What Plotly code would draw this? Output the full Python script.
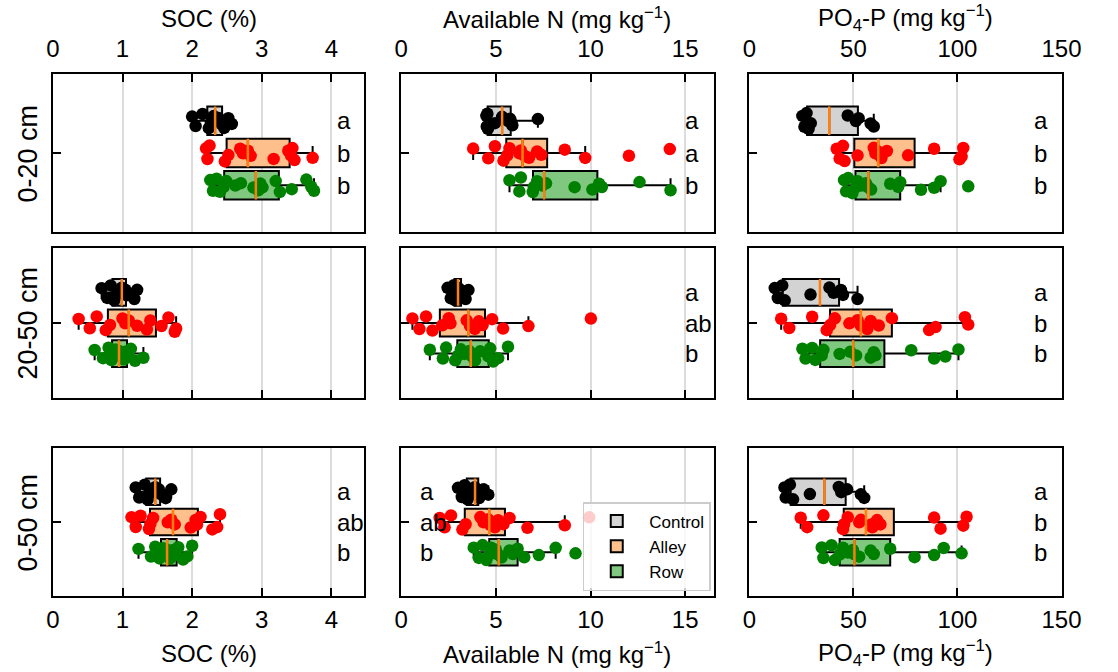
import numpy as np
import plotly.graph_objects as go

TREATMENTS = ["Control", "Alley", "Row"]
DEPTHS = ["0-20 cm", "20-50 cm", "0-50 cm"]
VARIABLES = ["SOC (%)", "Available N (mg kg<sup>−1</sup>)", "PO<sub>4</sub>-P (mg kg<sup>−1</sup>)"]
TICKS = [[0, 1, 2, 3, 4], [0, 5, 10, 15], [0, 50, 100, 150]]
XRANGES = [[0, 4.47], [0, 16.5], [0, 150.2]]

# SOC (%)
soc_0_20_control = [2.00, 2.05, 2.15, 2.24, 2.27, 2.31, 2.35, 2.38, 2.42, 2.46, 2.52, 2.57]
soc_0_20_alley = [2.20, 2.22, 2.25, 2.47, 2.52, 2.69, 2.73, 2.80, 2.84, 3.17, 3.38, 3.42, 3.44, 3.47, 3.73]
soc_0_20_row = [2.26, 2.30, 2.35, 2.40, 2.45, 2.49, 2.62, 2.70, 2.88, 2.95, 2.98, 3.01, 3.20, 3.26, 3.43, 3.64, 3.71, 3.75]
soc_20_50_control = [0.70, 0.78, 0.83, 0.88, 0.92, 0.99, 1.01, 1.04, 1.06, 1.17, 1.21]
soc_20_50_alley = [0.37, 0.53, 0.63, 0.76, 0.82, 1.00, 1.04, 1.09, 1.21, 1.35, 1.40, 1.56, 1.66, 1.75, 1.77]
soc_20_50_row = [0.60, 0.72, 0.80, 0.84, 0.86, 0.90, 0.93, 0.95, 0.98, 1.02, 1.05, 1.08, 1.12, 1.18, 1.30]
soc_0_50_control = [1.19, 1.24, 1.32, 1.36, 1.38, 1.47, 1.49, 1.52, 1.56, 1.62, 1.70]
soc_0_50_alley = [1.13, 1.19, 1.26, 1.38, 1.40, 1.44, 1.65, 1.70, 1.75, 1.98, 2.05, 2.07, 2.12, 2.29, 2.36, 2.40]
soc_0_50_row = [1.23, 1.41, 1.47, 1.53, 1.56, 1.58, 1.61, 1.63, 1.65, 1.68, 1.73, 1.77, 1.80, 1.87, 1.93, 2.00]

# Available N (mg kg-1)
n_0_20_control = [4.50, 4.52, 4.55, 4.58, 4.95, 5.33, 5.65, 5.75, 5.82, 5.87, 7.22]
n_0_20_alley = [3.80, 4.60, 4.95, 5.40, 5.60, 5.72, 6.24, 6.32, 6.50, 6.75, 7.18, 7.40, 8.64, 9.72, 12.03, 14.19]
n_0_20_row = [5.72, 6.24, 6.32, 6.95, 7.00, 7.18, 7.45, 7.65, 9.16, 10.10, 10.45, 10.60, 12.59, 14.23]
n_20_50_control = [2.45, 2.62, 2.78, 2.85, 2.95, 3.00, 3.05, 3.12, 3.20, 3.40, 3.55]
n_20_50_alley = [0.59, 0.96, 1.31, 1.65, 2.17, 2.51, 2.60, 3.46, 3.63, 3.89, 4.10, 4.30, 4.80, 5.38, 6.72, 10.02]
n_20_50_row = [1.51, 2.20, 2.37, 2.85, 3.00, 3.15, 3.35, 3.60, 3.75, 3.90, 4.17, 4.60, 4.70, 4.86, 5.12, 5.64]
n_0_50_control = [3.00, 3.20, 3.35, 3.50, 3.60, 3.88, 3.92, 4.00, 4.05, 4.12, 4.35, 4.60]
n_0_50_alley = [2.03, 2.29, 2.63, 3.23, 3.40, 4.18, 4.35, 4.60, 4.70, 4.95, 5.12, 5.40, 5.72, 6.67, 8.64, 9.93]
n_0_50_row = [3.83, 4.10, 4.30, 4.50, 4.65, 4.75, 4.90, 5.00, 5.15, 5.30, 5.72, 5.90, 6.15, 6.50, 7.27, 8.16, 9.21]

# PO4-P (mg kg-1)
p_0_20_control = [25.5, 26.5, 27.5, 28.5, 29.5, 47.3, 51.2, 52.5, 58.3, 59.8]
p_0_20_alley = [42.0, 43.4, 45.0, 45.8, 52.0, 59.8, 60.6, 61.4, 62.5, 63.5, 66.1, 76.3, 88.8, 101.0, 102.0, 102.8]
p_0_20_row = [45.5, 46.5, 47.5, 49.5, 51.0, 52.0, 54.0, 56.0, 57.2, 58.5, 67.7, 71.5, 72.5, 82.5, 88.8, 91.9, 105.2]
p_20_50_control = [12.2, 13.7, 15.8, 17.0, 29.4, 38.5, 40.5, 44.0, 45.0, 52.0]
p_20_50_alley = [15.3, 19.2, 30.2, 37.2, 38.8, 41.1, 48.1, 52.0, 53.6, 56.7, 58.3, 62.2, 68.5, 86.4, 89.5, 103.6, 105.2]
p_20_50_row = [25.5, 27.0, 30.2, 31.7, 34.8, 35.6, 43.4, 48.5, 51.3, 58.3, 59.8, 60.6, 77.8, 88.8, 94.2, 100.5]
p_0_50_control = [16.9, 17.5, 19.5, 21.0, 29.1, 43.0, 44.2, 47.0, 53.6, 55.2]
p_0_50_alley = [24.7, 27.8, 35.6, 45.0, 45.5, 47.3, 52.8, 53.6, 58.5, 59.1, 61.4, 63.0, 88.8, 91.9, 102.8, 104.4]
p_0_50_row = [34.8, 35.6, 39.5, 41.1, 43.4, 45.0, 47.3, 49.7, 50.5, 52.8, 58.3, 59.8, 67.7, 79.4, 88.8, 93.4, 102.0]

# significance letters (Control, Alley, Row) per depth row / variable column
letters_soc = [["a", "b", "b"], ["", "", ""], ["a", "ab", "b"]]
letters_n = [["a", "a", "b"], ["a", "ab", "b"], ["a", "ab", "b"]]
letters_p = [["a", "b", "b"], ["a", "b", "b"], ["a", "b", "b"]]

DATA = [
    [[soc_0_20_control, soc_0_20_alley, soc_0_20_row],
     [n_0_20_control, n_0_20_alley, n_0_20_row],
     [p_0_20_control, p_0_20_alley, p_0_20_row]],
    [[soc_20_50_control, soc_20_50_alley, soc_20_50_row],
     [n_20_50_control, n_20_50_alley, n_20_50_row],
     [p_20_50_control, p_20_50_alley, p_20_50_row]],
    [[soc_0_50_control, soc_0_50_alley, soc_0_50_row],
     [n_0_50_control, n_0_50_alley, n_0_50_row],
     [p_0_50_control, p_0_50_alley, p_0_50_row]],
]
LETTERS = [letters_soc, letters_n, letters_p]

FILL = ["#d3d3d3", "#fdc08c", "#80c880"]
DOT = ["#000000", "#ff0000", "#008000"]
MEDIAN = "#ff7f0e"
POS = [1, 0, -1]
BOXW = 0.88
FONT = "Liberation Sans, Arial, sans-serif"
W, H = 1118, 672
TICK_SIZE = 24
TITLE_SIZE = 24
LETTER_SIZE = 24
DEPTH_SIZE = 27

COL_PX = [(47, 366), (404, 724), (760.7, 1081)]
ROW_PX = [(74, 232), (248, 398), (448, 596)]


def stats(v):
    a = np.sort(np.asarray(v, float))
    q1, med, q3 = np.percentile(a, [25, 50, 75])
    iqr = q3 - q1
    lo = a[a >= q1 - 1.5 * iqr].min()
    hi = a[a <= q3 + 1.5 * iqr].max()
    return q1, med, q3, lo, hi


fig = go.Figure()
layout = dict()
annotations = []

for r in range(3):
    for c in range(3):
        k = r * 3 + c + 1
        xa = "x" if k == 1 else f"x{k}"
        ya = "y" if k == 1 else f"y{k}"
        for t in range(3):
            vals = DATA[r][c][t]
            q1, med, q3, lo, hi = stats(vals)
            show = (r == 2 and c == 1)
            fig.add_trace(go.Box(
                y=[POS[t]], q1=[q1], median=[med], q3=[q3],
                lowerfence=[lo], upperfence=[hi], orientation="h",
                width=BOXW, fillcolor=FILL[t], whiskerwidth=0.5,
                line=dict(color="black", width=2), boxpoints=False,
                name=TREATMENTS[t], showlegend=show,
                xaxis=xa, yaxis=ya, hoverinfo="skip"))
            fig.add_trace(go.Box(
                x=vals, y=[POS[t]] * len(vals), orientation="h",
                width=BOXW, boxpoints="all", jitter=0.7, pointpos=0,
                fillcolor="rgba(0,0,0,0)", line=dict(color="rgba(0,0,0,0)", width=0),
                marker=dict(color=DOT[t], size=12.5, line=dict(width=0)),
                showlegend=False, xaxis=xa, yaxis=ya, hoverinfo="skip"))
            fig.add_trace(go.Scatter(
                x=[med, med], y=[POS[t] - BOXW / 2, POS[t] + BOXW / 2],
                mode="lines", line=dict(color=MEDIAN, width=2.5),
                showlegend=False, xaxis=xa, yaxis=ya, hoverinfo="skip"))
            lab = LETTERS[c][r][t]
            if lab:
                if r == 2 and c == 1:
                    lx = 0.86
                else:
                    lx = [4.05, 14.9, 135.6][c]
                annotations.append(dict(
                    x=lx, y=POS[t], xref=xa, yref=ya, text=lab, showarrow=False,
                    xanchor="left", yanchor="middle",
                    font=dict(size=LETTER_SIZE, color="black", family=FONT)))

        x0, x1 = COL_PX[c]
        y0, y1 = ROW_PX[r]
        key_x = "xaxis" if k == 1 else f"xaxis{k}"
        key_y = "yaxis" if k == 1 else f"yaxis{k}"
        layout[key_x] = dict(
            domain=[x0 / W, x1 / W], range=XRANGES[c], anchor=ya,
            tickvals=TICKS[c], side="top" if r == 0 else "bottom",
            showticklabels=(r != 1), ticks="inside", ticklen=8, tickwidth=1.5,
            ticklabelstandoff=5 if r == 0 else 1,
            tickcolor="black", showline=True, linecolor="black", linewidth=2,
            mirror=True, showgrid=True, gridcolor="#dcdcdc", gridwidth=1.5,
            zeroline=False, tickfont=dict(size=TICK_SIZE, color="black", family=FONT))
        layout[key_y] = dict(
            domain=[1 - y1 / H, 1 - y0 / H], range=[-2.45, 2.45], anchor=xa,
            tickvals=[0], showticklabels=False, ticks="inside", ticklen=8,
            tickwidth=1.5, tickcolor="black", showline=True, linecolor="black",
            linewidth=2, mirror=True, showgrid=False, zeroline=False)

# axis titles
for c in range(3):
    cx = (COL_PX[c][0] + COL_PX[c][1]) / 2 / W
    for ypx in (18, 653):
        annotations.append(dict(
            x=cx, y=1 - ypx / H, xref="paper", yref="paper", text=VARIABLES[c],
            showarrow=False, xanchor="center", yanchor="middle",
            font=dict(size=TITLE_SIZE, color="black", family=FONT)))
# depth labels
for r in range(3):
    cy = 1 - (ROW_PX[r][0] + ROW_PX[r][1]) / 2 / H
    annotations.append(dict(
        x=22 / W, y=cy, xref="paper", yref="paper", text=DEPTHS[r],
        showarrow=False, textangle=-90, xanchor="center", yanchor="middle",
        font=dict(size=DEPTH_SIZE, color="black", family=FONT)))

fig.update_layout(
    width=W, height=H, margin=dict(l=0, r=0, t=0, b=0, pad=0),
    paper_bgcolor="white", plot_bgcolor="white",
    font=dict(family=FONT, color="black"),
    boxmode="overlay",
    annotations=annotations,
    legend=dict(x=590 / W, y=1 - 502 / H, xanchor="left", yanchor="top",
                bgcolor="rgba(255,255,255,0.8)", bordercolor="#cccccc", borderwidth=1.5,
                tracegroupgap=0, itemwidth=55,
                font=dict(size=17, color="black", family=FONT)),
    **layout)

fig.write_html("out.html")
